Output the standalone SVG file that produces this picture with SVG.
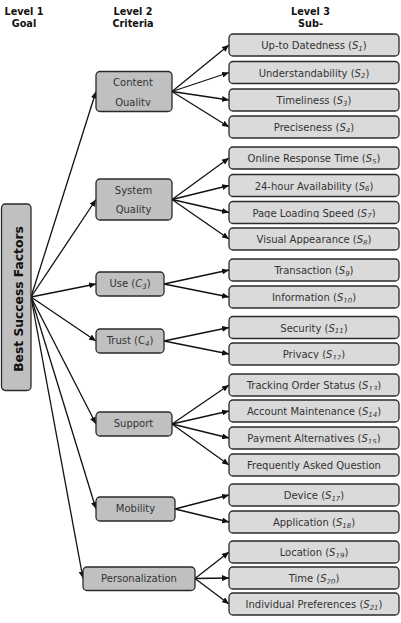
<svg xmlns="http://www.w3.org/2000/svg" width="401" height="623" viewBox="0 0 401 623">
<style>
.hdr{font-family:"DejaVu Sans",Verdana,sans-serif;font-weight:bold;font-size:9.7px;fill:#111;text-anchor:middle}
.goal{fill:#c0c0c0;stroke:#2a2a2a;stroke-width:1.3}
.c2{fill:#c0c0c0;stroke:#2a2a2a;stroke-width:1.3}
.c3{fill:#dadada;stroke:#2a2a2a;stroke-width:1.3}
.t{font-family:"DejaVu Sans",Verdana,sans-serif;font-size:10px;fill:#333;text-anchor:middle}
.gt{font-family:"DejaVu Sans",Verdana,sans-serif;font-weight:bold;font-size:12.3px;fill:#111;text-anchor:middle}
.i{font-style:italic}
.sub{font-style:italic;font-size:7px}
.ln{stroke:#111;stroke-width:1.3;fill:none;marker-end:url(#ah)}
</style>
<defs>
<marker id="ah" markerUnits="userSpaceOnUse" markerWidth="7" markerHeight="6" refX="7" refY="3" orient="auto">
<path d="M0,0 L7,3 L0,6 z" fill="#111"/>
</marker>
<clipPath id="tc">
<rect x="0" y="71" width="401" height="35.2"/>
<rect x="0" y="179" width="401" height="34.7"/>
<rect x="0" y="272" width="401" height="16.6"/>
<rect x="0" y="329" width="401" height="16.6"/>
<rect x="0" y="412" width="401" height="16.4"/>
<rect x="0" y="497" width="401" height="16.4"/>
<rect x="0" y="567" width="401" height="16"/>
<rect x="0" y="34" width="401" height="19"/>
<rect x="0" y="61.5" width="401" height="16.4"/>
<rect x="0" y="89" width="401" height="16.6"/>
<rect x="0" y="116" width="401" height="16.6"/>
<rect x="0" y="147" width="401" height="16.6"/>
<rect x="0" y="174.5" width="401" height="16.6"/>
<rect x="0" y="201.5" width="401" height="16.2"/>
<rect x="0" y="228" width="401" height="16.6"/>
<rect x="0" y="259" width="401" height="16.6"/>
<rect x="0" y="286" width="401" height="16.6"/>
<rect x="0" y="316.5" width="401" height="16.6"/>
<rect x="0" y="343" width="401" height="16.3"/>
<rect x="0" y="374" width="401" height="16.2"/>
<rect x="0" y="400" width="401" height="16.6"/>
<rect x="0" y="427" width="401" height="16.3"/>
<rect x="0" y="454" width="401" height="19"/>
<rect x="0" y="484" width="401" height="16.6"/>
<rect x="0" y="511" width="401" height="19"/>
<rect x="0" y="541" width="401" height="16.6"/>
<rect x="0" y="567" width="401" height="16.6"/>
<rect x="0" y="593" width="401" height="17"/>
</clipPath>
</defs>

<g id="headers">
<text class="hdr" x="24" y="15">Level 1</text>
<text class="hdr" x="24" y="27">Goal</text>
<text class="hdr" x="133" y="15">Level 2</text>
<text class="hdr" x="133" y="27">Criteria</text>
<text class="hdr" x="310.5" y="15">Level 3</text>
<text class="hdr" x="310.5" y="27">Sub-</text>
</g>

<g id="connectors">
<line class="ln" x1="31" y1="297" x2="96" y2="91.5"/>
<line class="ln" x1="31" y1="297" x2="96" y2="199.5"/>
<line class="ln" x1="31" y1="297" x2="96" y2="284"/>
<line class="ln" x1="31" y1="297" x2="96" y2="341"/>
<line class="ln" x1="31" y1="297" x2="96" y2="424"/>
<line class="ln" x1="31" y1="297" x2="96" y2="509"/>
<line class="ln" x1="31" y1="297" x2="83" y2="578.5"/>

<line class="ln" x1="172" y1="91.5" x2="229" y2="45"/>
<line class="ln" x1="172" y1="91.5" x2="229" y2="72.5"/>
<line class="ln" x1="172" y1="91.5" x2="229" y2="100"/>
<line class="ln" x1="172" y1="91.5" x2="229" y2="127"/>

<line class="ln" x1="172" y1="199.5" x2="229" y2="158"/>
<line class="ln" x1="172" y1="199.5" x2="229" y2="185.5"/>
<line class="ln" x1="172" y1="199.5" x2="229" y2="212.5"/>
<line class="ln" x1="172" y1="199.5" x2="229" y2="239"/>

<line class="ln" x1="164" y1="284" x2="229" y2="270"/>
<line class="ln" x1="164" y1="284" x2="229" y2="297"/>

<line class="ln" x1="164" y1="341" x2="229" y2="327.5"/>
<line class="ln" x1="164" y1="341" x2="229" y2="354"/>

<line class="ln" x1="172" y1="424" x2="229" y2="385"/>
<line class="ln" x1="172" y1="424" x2="229" y2="411"/>
<line class="ln" x1="172" y1="424" x2="229" y2="438"/>
<line class="ln" x1="172" y1="424" x2="229" y2="465"/>

<line class="ln" x1="175" y1="509" x2="229" y2="495"/>
<line class="ln" x1="175" y1="509" x2="229" y2="522"/>

<line class="ln" x1="195" y1="578.5" x2="229" y2="552"/>
<line class="ln" x1="195" y1="578.5" x2="229" y2="578"/>
<line class="ln" x1="195" y1="578.5" x2="229" y2="604"/>
</g>

<g id="goal">
<rect class="goal" x="1.5" y="204" width="29.5" height="186.5" rx="4"/>
<text class="gt" transform="translate(23.3,299) rotate(-90)">Best Success Factors</text>
</g>

<g id="c1">
<rect class="c2" x="96" y="71.5" width="76" height="40" rx="4"/>
<text class="t" x="133" y="86.3" clip-path="url(#tc)">Content</text>
<text class="t" x="133" y="105.6" clip-path="url(#tc)">Quality</text>
</g>
<g id="c2">
<rect class="c2" x="96" y="179" width="76" height="41" rx="4"/>
<text class="t" x="133.5" y="193.8" clip-path="url(#tc)">System</text>
<text class="t" x="133.5" y="213.1" clip-path="url(#tc)">Quality</text>
</g>
<g id="c3">
<rect class="c2" x="96" y="272" width="68" height="24" rx="4"/>
<text class="t" x="130" y="287.3" clip-path="url(#tc)">Use (<tspan class="i">C</tspan><tspan class="sub" dy="1.3">3</tspan><tspan dy="-1.3">)</tspan></text>
</g>
<g id="c4">
<rect class="c2" x="96" y="329" width="68" height="24" rx="4"/>
<text class="t" x="130" y="344.3" clip-path="url(#tc)">Trust (C<tspan class="sub" dy="1.3">4</tspan><tspan dy="-1.3">)</tspan></text>
</g>
<g id="c5">
<rect class="c2" x="96" y="412" width="76" height="24" rx="4"/>
<text class="t" x="133.5" y="427.3" clip-path="url(#tc)">Support</text>
</g>
<g id="c6">
<rect class="c2" x="96" y="497" width="79" height="24" rx="4"/>
<text class="t" x="135.5" y="512.3" clip-path="url(#tc)">Mobility</text>
</g>
<g id="c7">
<rect class="c2" x="83" y="567" width="112" height="23.5" rx="4"/>
<text class="t" x="139" y="582.1" clip-path="url(#tc)">Personalization</text>
</g>

<g id="s1"><rect class="c3" x="229" y="34" width="170" height="22" rx="4"/>
<text class="t" x="314" y="49.3" clip-path="url(#tc)">Up-to Datedness (<tspan class="i">S</tspan><tspan class="sub" dy="1.3">1</tspan><tspan dy="-1.3">)</tspan></text></g>
<g id="s2"><rect class="c3" x="229" y="61.5" width="170" height="22" rx="4"/>
<text class="t" x="314" y="76.8" clip-path="url(#tc)">Understandability (<tspan class="i">S</tspan><tspan class="sub" dy="1.3">2</tspan><tspan dy="-1.3">)</tspan></text></g>
<g id="s3"><rect class="c3" x="229" y="89" width="170" height="22" rx="4"/>
<text class="t" x="314" y="104.3" clip-path="url(#tc)">Timeliness (<tspan class="i">S</tspan><tspan class="sub" dy="1.3">3</tspan><tspan dy="-1.3">)</tspan></text></g>
<g id="s4"><rect class="c3" x="229" y="116" width="170" height="22" rx="4"/>
<text class="t" x="314" y="131.3" clip-path="url(#tc)">Preciseness (<tspan class="i">S</tspan><tspan class="sub" dy="1.3">4</tspan><tspan dy="-1.3">)</tspan></text></g>
<g id="s5"><rect class="c3" x="229" y="147" width="170" height="22" rx="4"/>
<text class="t" x="314" y="162.3" clip-path="url(#tc)">Online Response Time (<tspan class="i">S</tspan><tspan class="sub" dy="1.3">5</tspan><tspan dy="-1.3">)</tspan></text></g>
<g id="s6"><rect class="c3" x="229" y="174.5" width="170" height="22" rx="4"/>
<text class="t" x="314" y="189.8" clip-path="url(#tc)">24-hour Availability (<tspan class="i">S</tspan><tspan class="sub" dy="1.3">6</tspan><tspan dy="-1.3">)</tspan></text></g>
<g id="s7"><rect class="c3" x="229" y="201.5" width="170" height="22" rx="4"/>
<text class="t" x="314" y="216.8" clip-path="url(#tc)">Page Loading Speed (<tspan class="i">S</tspan><tspan class="sub" dy="1.3">7</tspan><tspan dy="-1.3">)</tspan></text></g>
<g id="s8"><rect class="c3" x="229" y="228" width="170" height="22" rx="4"/>
<text class="t" x="314" y="243.3" clip-path="url(#tc)">Visual Appearance (<tspan class="i">S</tspan><tspan class="sub" dy="1.3">8</tspan><tspan dy="-1.3">)</tspan></text></g>
<g id="s9"><rect class="c3" x="229" y="259" width="170" height="22" rx="4"/>
<text class="t" x="314" y="274.3" clip-path="url(#tc)">Transaction (<tspan class="i">S</tspan><tspan class="sub" dy="1.3">9</tspan><tspan dy="-1.3">)</tspan></text></g>
<g id="s10"><rect class="c3" x="229" y="286" width="170" height="22" rx="4"/>
<text class="t" x="314" y="301.3" clip-path="url(#tc)">Information (<tspan class="i">S</tspan><tspan class="sub" dy="1.3">10</tspan><tspan dy="-1.3">)</tspan></text></g>
<g id="s11"><rect class="c3" x="229" y="316.5" width="170" height="22" rx="4"/>
<text class="t" x="314" y="331.8" clip-path="url(#tc)">Security (<tspan class="i">S</tspan><tspan class="sub" dy="1.3">11</tspan><tspan dy="-1.3">)</tspan></text></g>
<g id="s12"><rect class="c3" x="229" y="343" width="170" height="22" rx="4"/>
<text class="t" x="314" y="358.3" clip-path="url(#tc)">Privacy (<tspan class="i">S</tspan><tspan class="sub" dy="1.3">12</tspan><tspan dy="-1.3">)</tspan></text></g>
<g id="s13"><rect class="c3" x="229" y="374" width="170" height="22" rx="4"/>
<text class="t" x="314" y="389.3" clip-path="url(#tc)">Tracking Order Status (<tspan class="i">S</tspan><tspan class="sub" dy="1.3">13</tspan><tspan dy="-1.3">)</tspan></text></g>
<g id="s14"><rect class="c3" x="229" y="400" width="170" height="22" rx="4"/>
<text class="t" x="314" y="415.3" clip-path="url(#tc)">Account Maintenance (<tspan class="i">S</tspan><tspan class="sub" dy="1.3">14</tspan><tspan dy="-1.3">)</tspan></text></g>
<g id="s15"><rect class="c3" x="229" y="427" width="170" height="22" rx="4"/>
<text class="t" x="314" y="442.3" clip-path="url(#tc)">Payment Alternatives (<tspan class="i">S</tspan><tspan class="sub" dy="1.3">15</tspan><tspan dy="-1.3">)</tspan></text></g>
<g id="s16"><rect class="c3" x="229" y="454" width="170" height="22" rx="4"/>
<text class="t" x="314" y="469.3" clip-path="url(#tc)">Frequently Asked Question</text></g>
<g id="s17"><rect class="c3" x="229" y="484" width="170" height="22" rx="4"/>
<text class="t" x="314" y="499.3" clip-path="url(#tc)">Device (<tspan class="i">S</tspan><tspan class="sub" dy="1.3">17</tspan><tspan dy="-1.3">)</tspan></text></g>
<g id="s18"><rect class="c3" x="229" y="511" width="170" height="22" rx="4"/>
<text class="t" x="314" y="526.3" clip-path="url(#tc)">Application (<tspan class="i">S</tspan><tspan class="sub" dy="1.3">18</tspan><tspan dy="-1.3">)</tspan></text></g>
<g id="s19"><rect class="c3" x="229" y="541" width="170" height="22" rx="4"/>
<text class="t" x="314" y="556.3" clip-path="url(#tc)">Location (<tspan class="i">S</tspan><tspan class="sub" dy="1.3">19</tspan><tspan dy="-1.3">)</tspan></text></g>
<g id="s20"><rect class="c3" x="229" y="567" width="170" height="22" rx="4"/>
<text class="t" x="314" y="582.3" clip-path="url(#tc)">Time (<tspan class="i">S</tspan><tspan class="sub" dy="1.3">20</tspan><tspan dy="-1.3">)</tspan></text></g>
<g id="s21"><rect class="c3" x="229" y="593" width="170" height="22" rx="4"/>
<text class="t" x="314" y="608.3" clip-path="url(#tc)">Individual Preferences (<tspan class="i">S</tspan><tspan class="sub" dy="1.3">21</tspan><tspan dy="-1.3">)</tspan></text></g>
</svg>
